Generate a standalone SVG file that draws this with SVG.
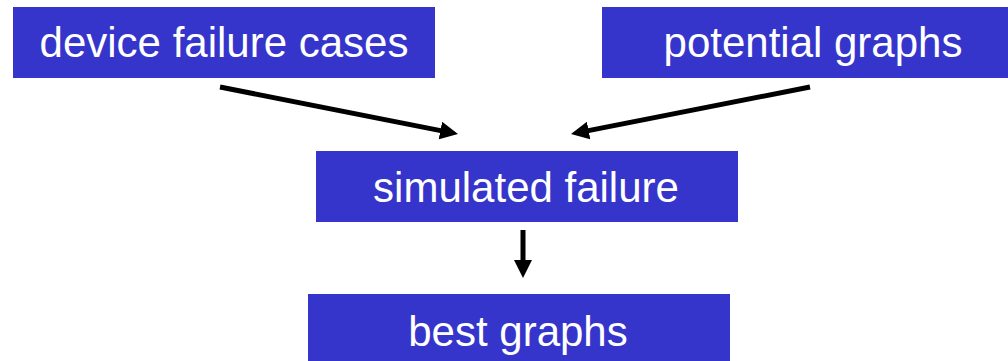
<svg xmlns="http://www.w3.org/2000/svg" width="1008" height="361" viewBox="0 0 1008 361">
<style>
.box{fill:#3535CC;}
.lbl{font-family:"Liberation Sans",Arial,sans-serif;font-size:42px;fill:#ffffff;text-anchor:middle;}
.conn{stroke:#000;stroke-width:5;fill:none;marker-end:url(#ah);}
</style>
<defs>
<marker id="ah" markerUnits="userSpaceOnUse" markerWidth="18" markerHeight="18" refX="8" refY="9" orient="auto">
<path d="M0,0 L18,9 L0,18 z" fill="#000"/>
</marker>
</defs>
<rect width="1008" height="361" fill="#ffffff"/>
<g id="device-failure-cases">
<rect class="box" x="13" y="7" width="422" height="71"/>
<text class="lbl" x="224" y="57">device failure cases</text>
</g>
<g id="potential-graphs">
<rect class="box" x="602" y="7" width="406" height="71"/>
<text class="lbl" x="813" y="57">potential graphs</text>
</g>
<g id="simulated-failure">
<rect class="box" x="316" y="151" width="422" height="71"/>
<text class="lbl" x="526" y="202">simulated failure</text>
</g>
<g id="best-graphs">
<rect class="box" x="308" y="294" width="422" height="67"/>
<text class="lbl" x="518" y="346">best graphs</text>
</g>
<g id="connectors">
<line class="conn" x1="220" y1="87" x2="448.2" y2="132.1"/>
<line class="conn" x1="810" y1="87" x2="580.8" y2="132.1"/>
<line class="conn" x1="523" y1="230" x2="523" y2="268"/>
</g>
</svg>
